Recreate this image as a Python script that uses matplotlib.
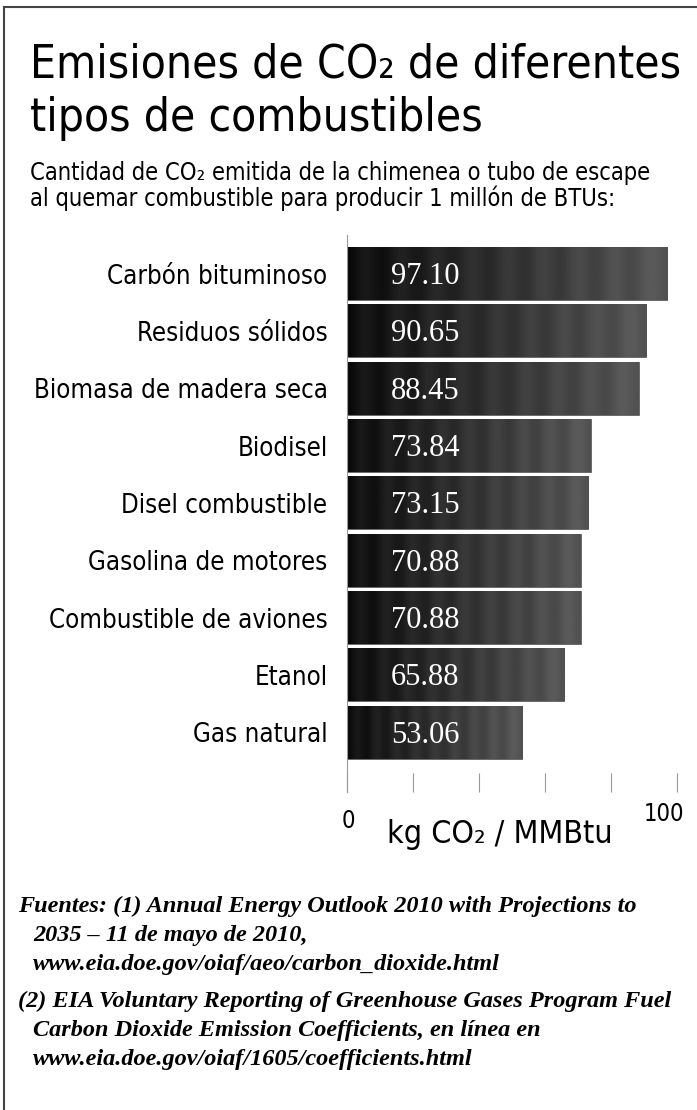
import os
import numpy as np
import matplotlib.pyplot as plt
from matplotlib import font_manager
from matplotlib.font_manager import FontProperties
from matplotlib.lines import Line2D

# Datos
combustibles = ["Carbón bituminoso", "Residuos sólidos", "Biomasa de madera seca",
                "Biodisel", "Disel combustible", "Gasolina de motores",
                "Combustible de aviones", "Etanol", "Gas natural"]
emisiones = [97.10, 90.65, 88.45, 73.84, 73.15, 70.88, 70.88, 65.88, 53.06]
etiquetas = ["97.10", "90.65", "88.45", "73.84", "73.15", "70.88", "70.88", "65.88", "53.06"]
ticks_x = [0, 20, 40, 60, 80, 100]

W, H = 697, 1110


def buscar_condensada():
    # busca una fuente sans estrecha instalada
    orden = ["DejaVuSansCondensed", "LiberationSansNarrow", "NotoSans-Condensed",
             "OpenSans_Condensed", "OpenSans-Condensed", "Roboto_Condensed", "RobotoCondensed"]
    archivos = [f.fname for f in font_manager.fontManager.ttflist]
    for pref in orden:
        for fn in archivos:
            nombre = os.path.splitext(os.path.basename(fn))[0]
            if nombre in (pref, pref + "-Regular", pref + "Regular"):
                return fn
    for f in font_manager.fontManager.ttflist:
        base = os.path.basename(f.fname)
        if ("Condensed" in base or "Narrow" in base) and "Semi" not in base and "Extra" not in base \
                and f.style == "normal" and f.weight in (400, "normal", "regular"):
            return f.fname
    return None


cond = buscar_condensada()


def fsans(size):
    if cond:
        return FontProperties(fname=cond, size=size)
    return FontProperties(family="DejaVu Sans", size=size * 0.85)


def px(x, y):
    # pixeles de la imagen -> fraccion de figura
    return x / W, 1 - y / H


fig = plt.figure(figsize=(W / 100, H / 100), dpi=100)

# marco (solo arriba e izquierda)
fig.add_artist(Line2D([4 / W, 4 / W], [0, 1 - 7 / H], color="#444444", lw=1.5))
fig.add_artist(Line2D([4 / W, 1], [1 - 7 / H, 1 - 7 / H], color="#444444", lw=1.5))

# titulo y subtitulo
fig.text(*px(30, 77), "Emisiones de CO₂ de diferentes", fontproperties=fsans(33), va="baseline")
fig.text(*px(30, 131), "tipos de combustibles", fontproperties=fsans(33), va="baseline")
fig.text(*px(30, 180), "Cantidad de CO₂ emitida de la chimenea o tubo de escape",
         fontproperties=fsans(17), va="baseline")
fig.text(*px(30, 206), "al quemar combustible para producir 1 millón de BTUs:",
         fontproperties=fsans(17), va="baseline")

# ejes: 0 en x=347, 100 en x=677 ; barras de y=247 a y=758
x0, x1 = 347, 677
ytop, ybot = 235, 792
paso = 57.35
c0 = 273.5
ax = fig.add_axes([x0 / W, 1 - ybot / H, (x1 - x0) / W, (ybot - ytop) / H])
y = np.arange(len(combustibles))
alto = 53 / paso

grad = np.linspace(0.03, 0.32, 256).reshape(1, -1)
grad = grad + 0.05 * np.sin(np.linspace(0, 9 * np.pi, 256)) ** 2
for yi, v in zip(y, emisiones):
    b = ax.barh(yi, v, height=alto, color="#1a1a1a", edgecolor="#666666", linewidth=0.6)[0]
    im = ax.imshow(grad, cmap="gray", vmin=0, vmax=1, aspect="auto",
                   extent=[0, v, yi + alto / 2, yi - alto / 2], zorder=2)
    im.set_clip_path(b)

for yi, t in zip(y, etiquetas):
    ax.text(23.6, yi + 0.05, t, color="white", family="Liberation Serif", fontsize=22,
            va="center", ha="center", zorder=3)

ax.set_xlim(0, 100)
ax.set_ylim((ybot - c0) / paso, -(c0 - ytop) / paso)
ax.set_yticks(y)
ax.set_yticklabels(combustibles, fontproperties=fsans(18.5))
ax.tick_params(axis="y", length=0, pad=14)
ax.set_xticks(ticks_x)
ax.set_xticklabels([])
ax.tick_params(axis="x", direction="in", length=14, width=0.8, color="#999999")
for s in ["top", "right", "bottom"]:
    ax.spines[s].set_visible(False)
ax.spines["left"].set_color("#999999")
ax.spines["left"].set_linewidth(0.8)

fig.text(*px(348, 828), "0", fontproperties=fsans(17), ha="center", va="baseline")
fig.text(*px(664, 821), "100", fontproperties=fsans(17), ha="center", va="baseline")
fig.text(*px(500, 843), "kg CO₂ / MMBtu", fontproperties=fsans(23), ha="center", va="baseline")

# fuentes
fuentes = [
    (18, 912, "Fuentes: (1) Annual Energy Outlook 2010 with Projections to"),
    (33, 941, "2035 – 11 de mayo de 2010,"),
    (33, 970, "www.eia.doe.gov/oiaf/aeo/carbon_dioxide.html"),
    (18, 1007, "(2) EIA Voluntary Reporting of Greenhouse Gases Program Fuel"),
    (33, 1036, "Carbon Dioxide Emission Coefficients, en línea en"),
    (33, 1065, "www.eia.doe.gov/oiaf/1605/coefficients.html"),
]
for xx, yy, t in fuentes:
    fig.text(*px(xx, yy), t, family="Liberation Serif", style="italic", weight="bold",
             fontsize=17.5, va="baseline")

fig.savefig("out.png", dpi=100)
